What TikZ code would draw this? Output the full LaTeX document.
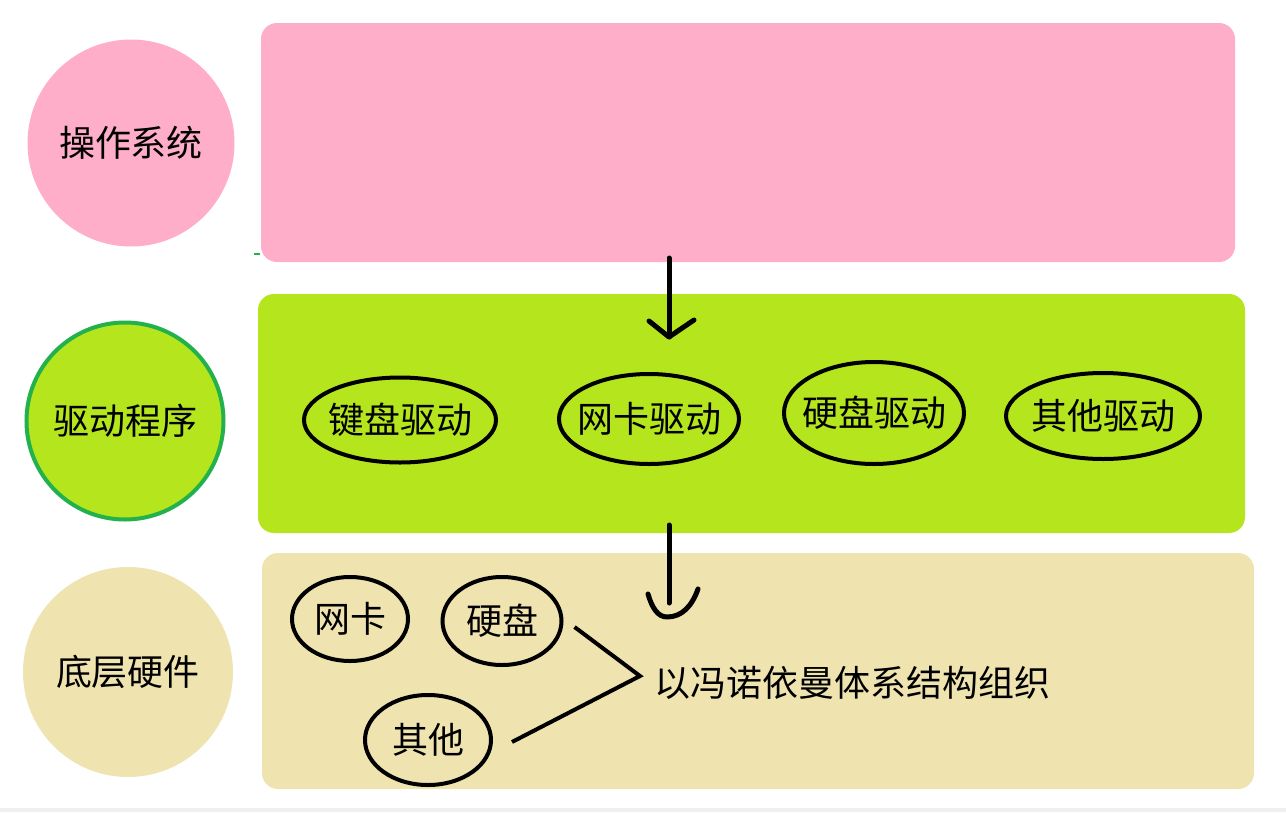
\documentclass[tikz,border=0pt]{standalone}
\usepackage{fontspec}
\newfontfamily\cjk{Noto Sans CJK SC}
\usetikzlibrary{shapes.geometric}
\definecolor{pinkc}{HTML}{FFAEC9}
\definecolor{limec}{HTML}{B5E61D}
\definecolor{greenb}{HTML}{22B14C}
\definecolor{beigec}{HTML}{EFE4B0}
\tikzset{
  lbl/.style={font=\cjk\fontsize{36}{40}\selectfont, text=black},
  band/.style={rounded corners=16pt, draw=none},
  disk/.style={circle, draw=none, inner sep=0pt, lbl},
  oval/.style={ellipse, draw=black, line width=4pt, inner sep=0pt},
  ovaltext/.style={label={[lbl, inner sep=0pt]center:#1}},
  pen/.style={line width=5pt, black, line cap=round, line join=round},
}
\begin{document}
\begin{tikzpicture}[x=1pt,y=-1pt]
\useasboundingbox (0,0) rectangle (1286,812);
\fill[white] (0,0) rectangle (1286,812);
\fill[black!6] (0,808) rectangle (1286,812);
% bands
\fill[pinkc, band] (261,23) rectangle (1235,262);
\fill[limec, band] (258,294) rectangle (1245,533);
\fill[beigec, band] (262,553) rectangle (1254,789);
% left circles
\node[disk, fill=pinkc, minimum size=207pt] (os) at (131,143) {操作系统};
\node[disk, fill=limec, draw=greenb, line width=4pt, minimum size=197pt] (drv) at (125,421) {驱动程序};
\node[disk, fill=beigec, minimum size=210pt] (hw) at (128,672) {底层硬件};
% driver ellipses
\node[oval, minimum width=192pt, minimum height=85pt, ovaltext=键盘驱动] (kbd) at (400,420) {};
\node[oval, minimum width=180pt, minimum height=90pt, ovaltext=网卡驱动] (nicd) at (649,419) {};
\node[oval, minimum width=180pt, minimum height=102pt, ovaltext=硬盘驱动] (hdd) at (874,413) {};
\node[oval, minimum width=194pt, minimum height=86pt, ovaltext=其他驱动] (othd) at (1103,416) {};
% hardware ellipses
\node[oval, minimum width=116pt, minimum height=84pt, ovaltext=网卡] (nic) at (350,619) {};
\node[oval, minimum width=119pt, minimum height=88pt, ovaltext=硬盘] (hd) at (502,621) {};
\node[oval, minimum width=126pt, minimum height=90pt, ovaltext=其他] (oth) at (428,740) {};
\node[lbl, anchor=west, inner sep=0pt] (vn) at (654,683) {以冯诺依曼体系结构组织};
% arrow 1
\coordinate (a1s) at (669,258);
\coordinate (a1e) at (669,337);
\coordinate (a1l) at (649,321);
\coordinate (a1r) at (694,320);
\draw[pen] (a1s) -- (a1e);
\draw[pen] (a1l) -- (a1e) -- (a1r);
% arrow 2
\coordinate (a2s) at (669,525);
\coordinate (a2e) at (669,603);
\coordinate (a2l) at (648,594);
\coordinate (a2b) at (667,617);
\coordinate (a2r) at (698,589);
\draw[pen] (a2s) -- (a2e);
\draw[pen] (a2l) .. controls (652,608) and (658,617) .. (a2b) .. controls (682,617) and (692,606) .. (a2r);
% bracket lines
\coordinate (vx) at (640,676);
\draw[line width=4pt, black, line join=miter] ([shift={(11,6)}]hd.east) -- (vx) -- ([shift={(19,2)}]oth.east);
% small mark
\draw[greenb, line width=1.5pt] (254,254) -- (260,254);
\end{tikzpicture}
\end{document}
